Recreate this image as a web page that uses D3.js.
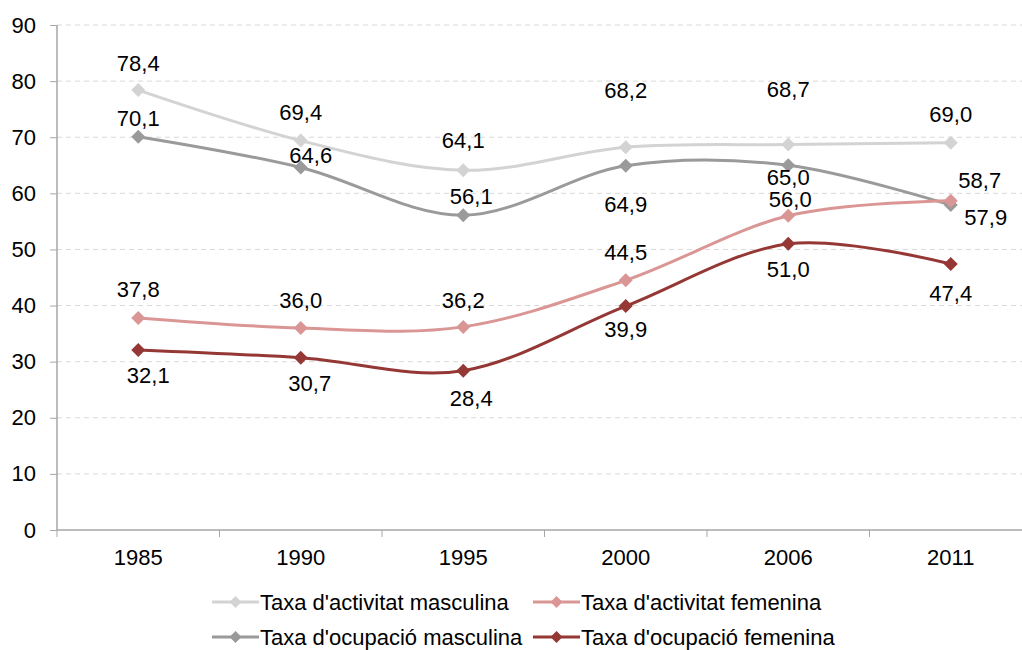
<!DOCTYPE html>
<html><head><meta charset="utf-8">
<script src="https://cdn.jsdelivr.net/npm/d3@7"></script>
<style>body{margin:0;background:#fff}svg{display:block;font-family:"Liberation Sans",Arial,sans-serif}</style>
</head><body><svg id="c" width="1022" height="650"></svg>
<script>
const years = ["1985","1990","1995","2000","2006","2011"];
const yTicks = [0,10,20,30,40,50,60,70,80,90];
const actMasc = [78.4,69.4,64.1,68.2,68.7,69.0];
const actFem  = [37.8,36.0,36.2,44.5,56.0,58.7];
const ocuMasc = [70.1,64.6,56.1,64.9,65.0,57.9];
const ocuFem  = [32.1,30.7,28.4,39.9,51.0,47.4];
const names = ["Taxa d'activitat masculina","Taxa d'activitat femenina","Taxa d'ocupació masculina","Taxa d'ocupació femenina"];

// label placements (dx, dy from point)
const series = [
  {name:names[0], vals:actMasc, color:"#d3d3d3", off:[[0,-27],[0,-28],[0,-30],[0,-57],[0,-55],[0,-29]]},
  {name:names[2], vals:ocuMasc, color:"#9a9a9a", off:[[0,-18],[10,-12],[8,-19],[0,38],[0,12],[35,12]]},
  {name:names[1], vals:actFem,  color:"#da9694", off:[[0,-29],[0,-28],[0,-27],[0,-28],[2,-16],[29,-20]]},
  {name:names[3], vals:ocuFem,  color:"#953735", off:[[10,25],[9,26],[8,28],[0,23],[0,25],[0,29]]}
];

const FS = 22;
const svg = d3.select("#c");
const x0 = 57, x1 = 57 + 162.5*6, yTop = 25, yBot = 530;
const x = d3.scaleBand().domain(years).range([x0,x1]);
const y = d3.scaleLinear().domain([0,90]).range([yBot,yTop]);
const cx = d => x(d) + x.bandwidth()/2;

// gridlines
svg.append("g").selectAll("line").data(yTicks.filter(t=>t>0)).join("line")
  .attr("x1",x0).attr("x2",1022).attr("y1",d=>y(d)).attr("y2",d=>y(d))
  .attr("stroke","#d9d9d9").attr("stroke-dasharray","5,4").attr("stroke-width",1);

// y axis
const ya = svg.append("g").attr("transform",`translate(${x0},0)`)
  .call(d3.axisLeft(y).tickValues(yTicks).tickSize(7).tickPadding(14).tickFormat(d3.format("d")));
ya.select(".domain").attr("stroke","#a6a6a6").attr("stroke-width",1.5).attr("d",`M0,${yTop}V${yBot}`);
ya.selectAll(".tick line").attr("stroke","#a6a6a6");
ya.selectAll("text").attr("font-size",FS).attr("fill","#000").attr("font-family","Liberation Sans, Arial");

// x axis
const xa = svg.append("g").attr("transform",`translate(0,${yBot})`);
xa.append("line").attr("x1",x0).attr("x2",1022).attr("y1",0).attr("y2",0).attr("stroke","#a6a6a6").attr("stroke-width",1.5);
const bounds = years.map(d=>x(d)).concat([x1]);
xa.selectAll(".tk").data(bounds).join("line").attr("class","tk")
  .attr("x1",d=>d).attr("x2",d=>d).attr("y1",0).attr("y2",7).attr("stroke","#a6a6a6");
xa.selectAll(".yl").data(years).join("text").attr("class","yl")
  .attr("x",d=>cx(d)).attr("y",35).attr("text-anchor","middle").attr("font-size",FS).attr("fill","#000").text(d=>d);

const line = d3.line().x((v,i)=>cx(years[i])).y(v=>y(v)).curve(d3.curveCatmullRom.alpha(0));
const diamond = (s)=>`M0,${-s}L${s},0L0,${s}L${-s},0Z`;
const fmt = v => v.toFixed(1).replace(".",",");

series.forEach(s=>{
  const g = svg.append("g");
  g.append("path").attr("d",line(s.vals)).attr("fill","none").attr("stroke",s.color).attr("stroke-width",3);
  g.selectAll("path.m").data(s.vals).join("path").attr("class","m")
    .attr("transform",(v,i)=>`translate(${cx(years[i])},${y(v)})`).attr("d",diamond(7)).attr("fill",s.color);
});
series.forEach(s=>{
  svg.append("g").selectAll("text").data(s.vals).join("text")
    .attr("x",(v,i)=>cx(years[i])+s.off[i][0]).attr("y",(v,i)=>y(v)+s.off[i][1])
    .attr("dy","0.35em").attr("text-anchor","middle").attr("font-size",FS).attr("fill","#000").text(fmt);
});

// legend
const leg = [
  {s:series[0], x:212, y:602},{s:series[2], x:533, y:602},
  {s:series[1], x:212, y:637},{s:series[3], x:533, y:637}
];
leg.forEach(l=>{
  const g = svg.append("g").attr("transform",`translate(${l.x},${l.y})`);
  g.append("line").attr("x1",0).attr("x2",47).attr("stroke",l.s.color).attr("stroke-width",3);
  g.append("path").attr("transform","translate(23.5,0)").attr("d",diamond(6)).attr("fill",l.s.color);
  g.append("text").attr("x",48).attr("dy","0.35em").attr("font-size",FS).attr("fill","#000").text(l.s.name);
});
</script></body></html>
